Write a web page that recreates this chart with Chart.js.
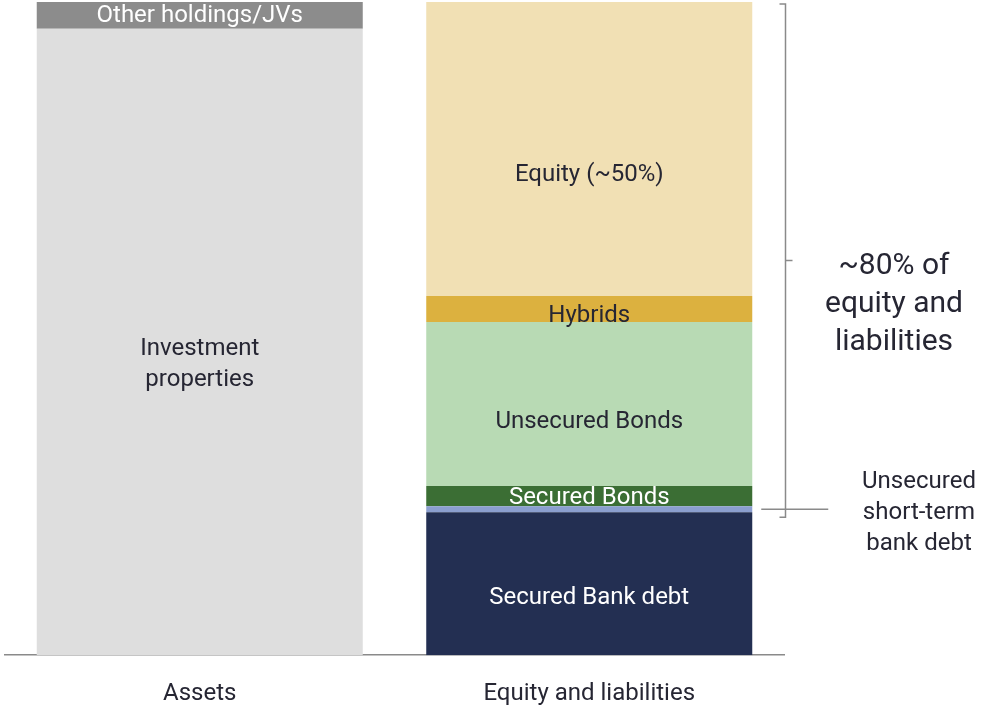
<!DOCTYPE html>
<html>
<head>
<meta charset="utf-8">
<script src="https://cdn.jsdelivr.net/npm/chart.js@4"></script>
<style>
  html, body { margin: 0; padding: 0; background: #fff; overflow: hidden; }
  #chart { display: block; }
</style>
</head>
<body>
<canvas id="chart" width="983" height="707"></canvas>
<script>
// ── Data (share of balance sheet) ────────────────────────────────────────────

const categories = ['Assets', 'Equity and liabilities'];

const investmentProperties = [95.9, null];
const otherHoldings        = [4.1, null];
const securedBankDebt      = [null, 21.9];
const shortTermBankDebt    = [null, 0.9];
const securedBonds         = [null, 3.1];
const unsecuredBonds       = [null, 25.1];
const hybrids              = [null, 4.0];
const equity               = [null, 45.0];

const annotationMain = ['~80% of', 'equity and', 'liabilities'];
const annotationSide = ['Unsecured', 'short-term', 'bank debt'];

// ── Styling ──────────────────────────────────────────────────────────────────

const FONT = 'Roboto, "Noto Sans", sans-serif';
const textDark = '#262633';
const lineGray = '#8a8a8a';

function segment(label, data, color, textColor, text, dy) {
  return {
    label, data,
    backgroundColor: color,
    borderWidth: 0,
    stack: 'bs',
    barPercentage: 0.837,
    categoryPercentage: 1,
    segText: text,
    segTextColor: textColor,
    segDy: dy,
  };
}

// Segment names drawn inside the bars
const segmentLabels = {
  id: 'segmentLabels',
  afterDatasetsDraw(chart) {
    const { ctx } = chart;
    ctx.save();
    ctx.font = `24px ${FONT}`;
    ctx.textAlign = 'center';
    ctx.textBaseline = 'middle';
    chart.data.datasets.forEach((ds, di) => {
      const meta = chart.getDatasetMeta(di);
      ds.data.forEach((v, i) => {
        if (v == null) return;
        const el = meta.data[i];
        const lines = ds.segText;
        const lh = 31;
        const cy = (el.y + el.base) / 2 + ds.segDy;
        ctx.fillStyle = ds.segTextColor;
        lines.forEach((t, k) => {
          ctx.fillText(t, el.x, cy + (k - (lines.length - 1) / 2) * lh);
        });
      });
    });
    ctx.restore();
  },
};

// Bracket and notes on the right of the chart
const bracketNotes = {
  id: 'bracketNotes',
  afterDraw(chart) {
    const { ctx, chartArea, scales: { y } } = chart;
    const bank = securedBankDebt[1];
    const st = shortTermBankDebt[1];
    const top = y.getPixelForValue(100) + 2;
    const bottom = y.getPixelForValue(bank) + 5;
    const mid = (top + bottom) / 2;
    const bx = chartArea.right + 1.5;
    const stY = y.getPixelForValue(bank + st / 2);
    const barMeta = chart.getDatasetMeta(2).data[1];
    const barRight = barMeta.x + barMeta.width / 2;

    ctx.save();
    ctx.strokeStyle = lineGray;
    ctx.lineWidth = 1.5;
    ctx.beginPath();
    ctx.moveTo(bx - 6, top); ctx.lineTo(bx, top);
    ctx.lineTo(bx, bottom); ctx.lineTo(bx - 6, bottom);
    ctx.moveTo(bx, mid); ctx.lineTo(bx + 7, mid);
    ctx.moveTo(barRight + 9, stY); ctx.lineTo(barRight + 76, stY);
    ctx.stroke();

    ctx.fillStyle = textDark;
    ctx.textAlign = 'center';
    ctx.textBaseline = 'middle';
    ctx.font = `30px ${FONT}`;
    annotationMain.forEach((t, k) => ctx.fillText(t, 894, mid + 6 + k * 38));
    ctx.font = `24px ${FONT}`;
    annotationSide.forEach((t, k) => ctx.fillText(t, 919, stY + 4 + (k - 1) * 31));
    ctx.restore();
  },
};

new Chart(document.getElementById('chart'), {
  type: 'bar',
  data: {
    labels: categories,
    datasets: [
      segment('Investment properties', investmentProperties, '#dedede', textDark, ['Investment', 'properties'], 23),
      segment('Other holdings/JVs', otherHoldings, '#8c8c8c', '#ffffff', ['Other holdings/JVs'], 1),
      segment('Secured Bank debt', securedBankDebt, '#232f52', '#ffffff', ['Secured Bank debt'], 14),
      segment('Unsecured short-term bank debt', shortTermBankDebt, '#8b9fcf', textDark, [], 0),
      segment('Secured Bonds', securedBonds, '#3b6e34', '#ffffff', ['Secured Bonds'], 2),
      segment('Unsecured Bonds', unsecuredBonds, '#b8dab4', textDark, ['Unsecured Bonds'], 18),
      segment('Hybrids', hybrids, '#dcb13f', textDark, ['Hybrids'], 7),
      segment('Equity (~50%)', equity, '#f1e0b4', textDark, ['Equity (~50%)'], 26),
    ],
  },
  options: {
    responsive: false,
    animation: false,
    layout: { padding: { left: 5, right: 199, top: 2, bottom: -25 } },
    plugins: {
      legend: { display: false },
      tooltip: { enabled: false },
    },
    scales: {
      x: {
        stacked: true,
        grid: { display: false, drawTicks: false },
        border: { display: true, color: lineGray, width: 1.5 },
        ticks: { color: textDark, font: { family: FONT, size: 24 }, padding: 24 },
      },
      y: {
        stacked: true,
        display: false,
        min: 0, max: 100,
      },
    },
  },
  plugins: [segmentLabels, bracketNotes],
});
</script>
</body>
</html>
